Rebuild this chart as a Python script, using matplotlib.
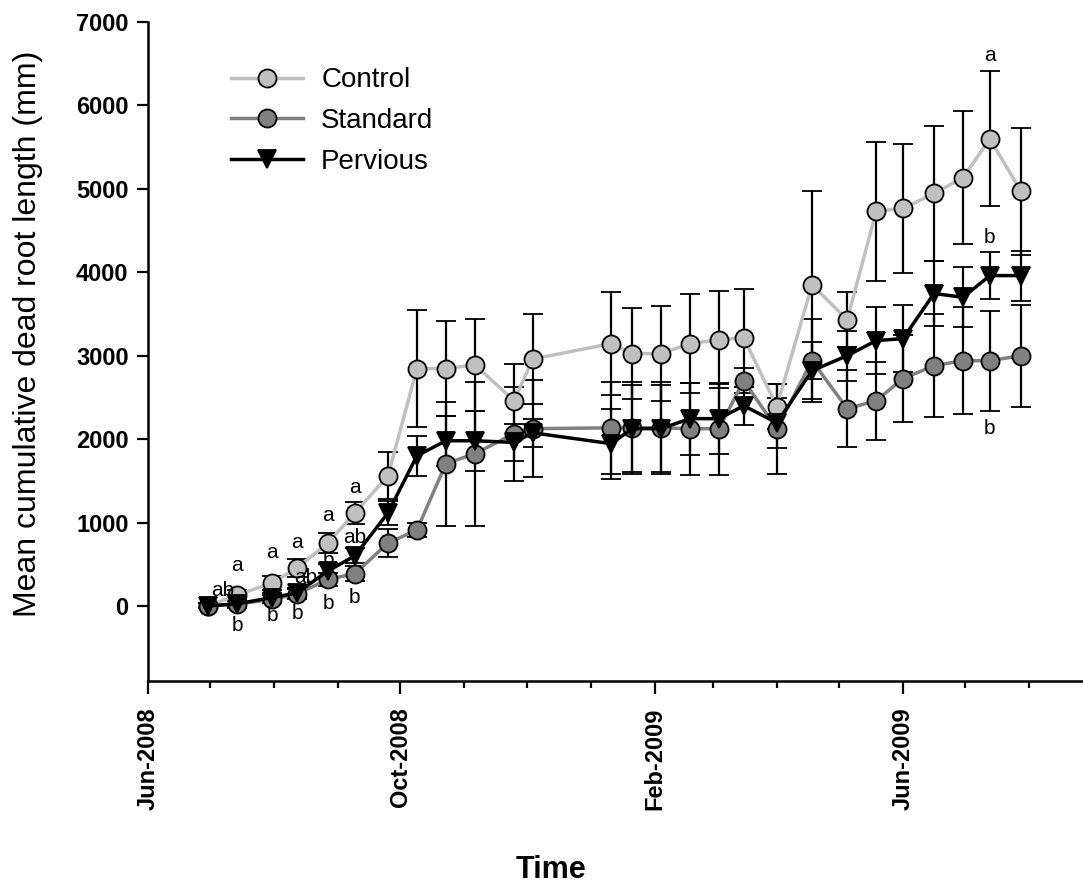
import numpy as np
import pandas as pd
import matplotlib
matplotlib.use('Agg')
import matplotlib.pyplot as plt
import matplotlib.dates as mdates

plt.rcParams['font.family'] = ['Liberation Sans', 'DejaVu Sans']

# sampling dates
dates = pd.to_datetime([
    '2008-06-30', '2008-07-14', '2008-07-31', '2008-08-12', '2008-08-27',
    '2008-09-09', '2008-09-25', '2008-10-09', '2008-10-23', '2008-11-06',
    '2008-11-25', '2008-12-04', '2009-01-11', '2009-01-21', '2009-02-04',
    '2009-02-18', '2009-03-04', '2009-03-16', '2009-04-01', '2009-04-18',
    '2009-05-05', '2009-05-19', '2009-06-01', '2009-06-16', '2009-06-30',
    '2009-07-13', '2009-07-28'])

control = [0, 130, 275, 455, 755, 1115, 1560, 2845, 2845, 2890, 2460, 2960,
           3145, 3025, 3025, 3145, 3190, 3215, 2390, 3850, 3430, 4730, 4765,
           4945, 5135, 5600, 4970]
control_se = [30, 60, 80, 110, 125, 130, 280, 700, 570, 550, 445, 540,
              615, 550, 565, 590, 580, 590, 270, 1130, 330, 830, 770,
              810, 800, 810, 760]

standard = [0, 20, 80, 140, 320, 385, 755, 910, 1705, 1825, 2065, 2125,
            2135, 2135, 2135, 2125, 2125, 2700, 2125, 2940, 2365, 2460, 2725,
            2880, 2940, 2940, 3000]
standard_se = [30, 40, 50, 60, 80, 90, 165, 80, 745, 865, 565, 585,
               550, 550, 550, 550, 550, 150, 540, 500, 465, 470, 525,
               620, 640, 600, 610]

pervious = [0, 25, 100, 155, 420, 600, 1115, 1800, 1980, 1980, 1960, 2075,
            1945, 2125, 2125, 2245, 2245, 2400, 2195, 2820, 3000, 3180, 3205,
            3745, 3700, 3960, 3960]
pervious_se = [30, 40, 50, 60, 80, 90, 140, 240, 300, 360, 220, 170,
               420, 520, 520, 430, 420, 230, 300, 340, 300, 400, 400,
               395, 360, 280, 300]

# significance letters: (sample index, letter, y value)
letter_idx = [1, 1, 1, 2, 2, 3, 3, 3, 4, 4, 4, 5, 5, 5, 25, 25, 25]
letter_txt = ['ab', 'a', 'b', 'a', 'b', 'a', 'ab', 'b', 'a', 'b', 'b',
              'a', 'ab', 'b', 'a', 'b', 'b']
letter_y = [180, 480, -240, 636, -120, 756, 336, -96, 1080, 540, 24,
            1416, 816, 96, 6600, 4416, 2124]
letter_dx = [-7, 0, 0, 0, 0, 0, 4, 0, 0, 0, 0, 0, 0, 0, 0, 0, 0]

fig = plt.figure(figsize=(10.83, 8.88), dpi=100)
ax = fig.add_axes([148 / 1083, 1 - 681 / 888, 1 - 148 / 1083, (681 - 22) / 888])

series = [
    ('Control', control, control_se, 'o', '#c0c0c0'),
    ('Standard', standard, standard_se, 'o', '#808080'),
    ('Pervious', pervious, pervious_se, 'v', '#000000'),
]
handles, names = [], []
for name, vals, se, mk, col in series:
    c = ax.errorbar(dates, vals, yerr=se, fmt='-' + mk, color=col, lw=2.5,
                    ecolor='black', elinewidth=1.6, capsize=7, capthick=1.6,
                    markersize=13, markerfacecolor=col, markeredgecolor='black',
                    markeredgewidth=1.3)
    handles.append(c[0])
    names.append(name)

for i, t, y, dx in zip(letter_idx, letter_txt, letter_y, letter_dx):
    ax.text(dates[i] + pd.Timedelta(days=dx), y, t, ha='center', va='center',
            fontsize=15)

ax.set_ylim(-900, 7000)
ax.set_yticks(np.arange(0, 7001, 1000))
ax.set_xlim(pd.Timestamp('2008-06-01'), pd.Timestamp('2009-08-27'))
ax.xaxis.set_major_locator(mdates.MonthLocator(bymonth=[2, 6, 10]))
ax.xaxis.set_minor_locator(mdates.MonthLocator())
ax.xaxis.set_major_formatter(mdates.DateFormatter('%b-%Y'))

for s in ['top', 'right']:
    ax.spines[s].set_visible(False)
for s in ['left', 'bottom']:
    ax.spines[s].set_linewidth(1.8)

ax.tick_params(axis='x', which='major', length=9, width=1.6, pad=10)
ax.tick_params(axis='x', which='minor', length=5, width=1.6)
ax.tick_params(axis='y', which='major', length=8, width=1.6, pad=6)
for lab in ax.get_xticklabels():
    lab.set_rotation(90)
    lab.set_fontweight('bold')
    lab.set_fontsize(17)
    lab.set_va('top')
    lab.set_ha('center')
for lab in ax.get_yticklabels():
    lab.set_fontweight('bold')
    lab.set_fontsize(17)

ax.set_ylabel('Mean cumulative dead root length (mm)', fontsize=23,
              va='center')
ax.yaxis.set_label_coords(-0.128, 0.527)
ax.set_xlabel('Time', fontsize=22, fontweight='bold', va='center')
ax.xaxis.set_label_coords(0.431, -0.287)

ax.legend(handles, names, loc='upper left', bbox_to_anchor=(0.062, 0.969),
          frameon=False, fontsize=20, handlelength=2.6, handletextpad=0.65,
          labelspacing=0.53)

fig.savefig('out.png', dpi=100)
